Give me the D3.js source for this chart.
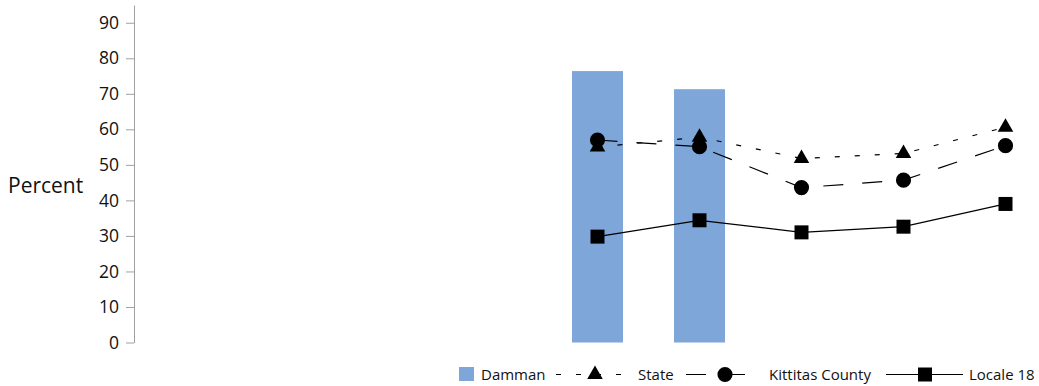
<!DOCTYPE html>
<html>
<head>
<meta charset="utf-8">
<script src="https://cdn.jsdelivr.net/npm/d3@7"></script>
<style>
  html, body { margin: 0; padding: 0; background: #fff; }
  svg { display: block; font-family: "Open Sans", sans-serif; }
</style>
</head>
<body>
<svg id="chart" width="1039" height="386"></svg>
<script>
const categories = ["C1", "C2", "C3", "C4", "C5", "C6", "C7", "C8", "C9"];
const dammanValues = [null, null, null, null, 76.4, 71.3, null, null, null];
const stateValues = [null, null, null, null, 55.0, 57.8, 51.8, 53.2, 60.6];
const countyValues = [null, null, null, null, 57.0, 55.1, 43.6, 45.7, 55.4];
const localeValues = [null, null, null, null, 29.8, 34.4, 31.0, 32.6, 39.0];
const yTicks = [0, 10, 20, 30, 40, 50, 60, 70, 80, 90];
const seriesNames = ["Damman", "State", "Kittitas County", "Locale 18"];

const svg = d3.select("#chart");

const x = d3.scaleBand().domain(categories).range([138.5, 1056.5])
  .paddingInner(0.5).paddingOuter(0.25);
const y = d3.scaleLinear().domain([0, 95]).range([342.5, 5]);

// Y axis
const yAxis = d3.axisLeft(y).tickValues(yTicks).tickSize(8).tickPadding(7).tickSizeOuter(0);
const gy = svg.append("g").attr("transform", "translate(134,0)").call(yAxis);
gy.select(".domain").attr("stroke", "#a0a0a0");
gy.selectAll(".tick line").attr("stroke", "#a0a0a0");
gy.selectAll(".tick text").attr("font-size", "17.5px").attr("fill", "#111")
  .attr("font-family", "'Open Sans', sans-serif");

svg.append("text").attr("x", 8).attr("y", 193).attr("font-size", "21px")
  .attr("fill", "#111").text("Percent");

// Bars
const barColor = "#7ea6d9";
svg.append("g").selectAll("rect")
  .data(categories.map((c, i) => ({c, v: dammanValues[i]})).filter(d => d.v != null))
  .join("rect")
  .attr("x", d => x(d.c))
  .attr("width", x.bandwidth())
  .attr("y", d => y(d.v))
  .attr("height", d => y(0) - y(d.v))
  .attr("fill", barColor);

const cx = c => x(c) + x.bandwidth() / 2;

const lineSeries = [
  {name: "State", values: stateValues, dash: "5,15", symbol: d3.symbolTriangle, size: 105},
  {name: "Kittitas County", values: countyValues, dash: "20,19", symbol: d3.symbolCircle, size: 180},
  {name: "Locale 18", values: localeValues, dash: null, symbol: d3.symbolSquare, size: 196}
];

const line = d3.line().defined(d => d.v != null).x(d => cx(d.c)).y(d => y(d.v));

lineSeries.forEach(s => {
  const pts = categories.map((c, i) => ({c, v: s.values[i]}));
  svg.append("path").datum(pts)
    .attr("d", line)
    .attr("fill", "none").attr("stroke", "#000").attr("stroke-width", 1.2)
    .attr("stroke-dasharray", s.dash);
});
lineSeries.forEach(s => {
  const pts = categories.map((c, i) => ({c, v: s.values[i]})).filter(d => d.v != null);
  svg.append("g").selectAll("path").data(pts).join("path")
    .attr("transform", d => `translate(${cx(d.c)},${y(d.v)})`)
    .attr("d", d3.symbol().type(s.symbol).size(s.size)())
    .attr("fill", "#000");
});

// Legend
const lg = svg.append("g").attr("font-size", "15px").attr("fill", "#111");
const ly = 374.5;
lg.append("rect").attr("x", 459).attr("y", 367).attr("width", 15).attr("height", 14).attr("fill", barColor);
lg.append("text").attr("x", 481).attr("y", ly + 5.5).text(seriesNames[0]);

const legendItems = [
  {s: lineSeries[0], x1: 556, x2: 623, mx: 595, tx: 638},
  {s: lineSeries[1], x1: 686, x2: 750, mx: 725, tx: 769},
  {s: lineSeries[2], x1: 886, x2: 963, mx: 925, tx: 969}
];
legendItems.forEach(it => {
  lg.append("line").attr("x1", it.x1).attr("x2", it.x2).attr("y1", ly).attr("y2", ly)
    .attr("stroke", "#000").attr("stroke-width", 1.2)
    .attr("stroke-dasharray", it.s.dash);
  lg.append("path").attr("transform", `translate(${it.mx},${ly})`)
    .attr("d", d3.symbol().type(it.s.symbol).size(it.s.size)()).attr("fill", "#000");
  lg.append("text").attr("x", it.tx).attr("y", ly + 5.5).text(it.s.name);
});
</script>
</body>
</html>
